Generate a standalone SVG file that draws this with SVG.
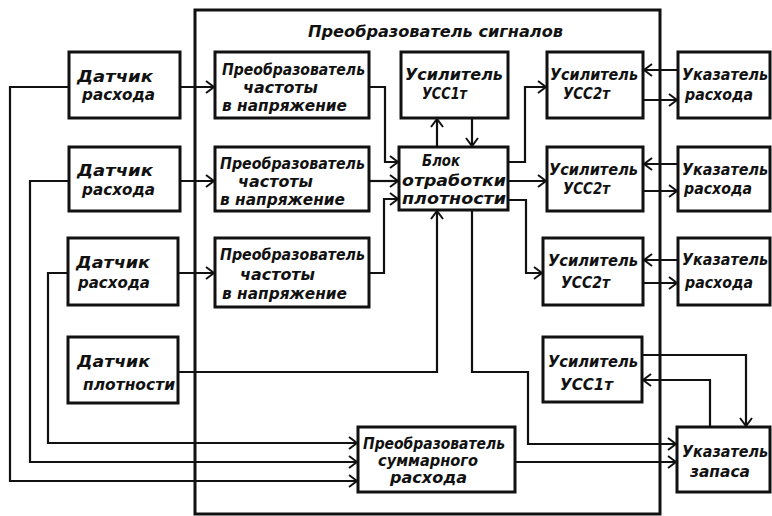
<svg xmlns="http://www.w3.org/2000/svg" width="772" height="516" viewBox="0 0 772 516">
<style>
.box{fill:#fff;stroke:#111;stroke-width:3}
.frame{fill:none;stroke:#111;stroke-width:3}
.ln{fill:none;stroke:#111;stroke-width:2.2}
.ar{marker-end:url(#arr)}
text{font-family:"DejaVu Sans","Liberation Sans",sans-serif;font-style:italic;font-weight:bold;font-size:15px;fill:#111}
</style>
<defs>
<marker id="arr" markerUnits="userSpaceOnUse" markerWidth="12" markerHeight="14" refX="9" refY="7" orient="auto">
<path d="M1,1 L9,7 L1,13" fill="none" stroke="#111" stroke-width="2"/>
</marker>
</defs>
<rect width="772" height="516" fill="#fff"/>
<g id="frame">
<rect class="frame" x="195" y="10" width="465" height="504"/>
<text x="308" y="37" textLength="255" lengthAdjust="spacingAndGlyphs">Преобразователь сигналов</text>
</g>
<g id="connectors">
<path class="ln ar" d="M180,87 H214"/>
<path class="ln ar" d="M180,181 H214"/>
<path class="ln ar" d="M177,273 H214"/>
<path class="ln ar" d="M69,87 H10 V481 H357"/>
<path class="ln ar" d="M69,181 H30 V462 H357"/>
<path class="ln ar" d="M68,273 H48 V443 H357"/>
<path class="ln ar" d="M178,372 H437 V211"/>
<path class="ln ar" d="M369,87 H385 V162 H398"/>
<path class="ln ar" d="M369,181 H398"/>
<path class="ln ar" d="M369,273 H384 V199 H398"/>
<path class="ln ar" d="M437,147 V119"/>
<path class="ln ar" d="M472,118 V146"/>
<path class="ln ar" d="M508,162 H525 V87 H546"/>
<path class="ln ar" d="M508,181 H546"/>
<path class="ln ar" d="M508,200 H526 V273 H542"/>
<path class="ln ar" d="M678,70 H644"/>
<path class="ln ar" d="M643,100 H677"/>
<path class="ln ar" d="M678,164 H644"/>
<path class="ln ar" d="M643,191 H677"/>
<path class="ln ar" d="M678,260 H644"/>
<path class="ln ar" d="M643,283 H677"/>
<path class="ln ar" d="M472,210 V372 H528 V444 H676"/>
<path class="ln ar" d="M515,462 H676"/>
<path class="ln ar" d="M642,355 H746 V426"/>
<path class="ln ar" d="M710,427 V380 H643"/>
</g>
<g id="d1">
<rect class="box" x="69" y="52" width="111" height="66"/>
<text x="77" y="82" textLength="76" lengthAdjust="spacingAndGlyphs">Датчик</text>
<text x="82" y="100" textLength="73" lengthAdjust="spacingAndGlyphs">расхода</text>
</g>
<g id="d2">
<rect class="box" x="69" y="147" width="111" height="64"/>
<text x="77" y="176" textLength="76" lengthAdjust="spacingAndGlyphs">Датчик</text>
<text x="82" y="195" textLength="73" lengthAdjust="spacingAndGlyphs">расхода</text>
</g>
<g id="d3">
<rect class="box" x="68" y="238" width="110" height="67"/>
<text x="76" y="268" textLength="74" lengthAdjust="spacingAndGlyphs">Датчик</text>
<text x="78" y="288" textLength="72" lengthAdjust="spacingAndGlyphs">расхода</text>
</g>
<g id="d4">
<rect class="box" x="68" y="337" width="110" height="66"/>
<text x="77" y="367" textLength="73" lengthAdjust="spacingAndGlyphs">Датчик</text>
<text x="83" y="390" textLength="92" lengthAdjust="spacingAndGlyphs">плотности</text>
</g>
<g id="c1">
<rect class="box" x="215" y="52" width="154" height="66"/>
<text x="222" y="75" textLength="143" lengthAdjust="spacingAndGlyphs">Преобразователь</text>
<text x="243" y="93" textLength="75" lengthAdjust="spacingAndGlyphs">частоты</text>
<text x="222" y="111" textLength="125" lengthAdjust="spacingAndGlyphs">в напряжение</text>
</g>
<g id="c2">
<rect class="box" x="215" y="147" width="154" height="64"/>
<text x="220" y="169" textLength="145" lengthAdjust="spacingAndGlyphs">Преобразователь</text>
<text x="238" y="187" textLength="75" lengthAdjust="spacingAndGlyphs">частоты</text>
<text x="220" y="205" textLength="125" lengthAdjust="spacingAndGlyphs">в напряжение</text>
</g>
<g id="c3">
<rect class="box" x="215" y="238" width="154" height="69"/>
<text x="220" y="260" textLength="145" lengthAdjust="spacingAndGlyphs">Преобразователь</text>
<text x="240" y="280" textLength="75" lengthAdjust="spacingAndGlyphs">частоты</text>
<text x="222" y="299" textLength="125" lengthAdjust="spacingAndGlyphs">в напряжение</text>
</g>
<g id="u1">
<rect class="box" x="401" y="52" width="107" height="66"/>
<text x="405" y="80" textLength="98" lengthAdjust="spacingAndGlyphs">Усилитель</text>
<text x="422" y="99" textLength="45" lengthAdjust="spacingAndGlyphs">УСС1т</text>
</g>
<g id="b">
<rect class="box" x="399" y="147" width="109" height="63"/>
<text x="422" y="166" textLength="38" lengthAdjust="spacingAndGlyphs">Блок</text>
<text x="402" y="186" textLength="104" lengthAdjust="spacingAndGlyphs">отработки</text>
<text x="402" y="204" textLength="104" lengthAdjust="spacingAndGlyphs">плотности</text>
</g>
<g id="a1">
<rect class="box" x="547" y="52" width="96" height="66"/>
<text x="550" y="80" textLength="88" lengthAdjust="spacingAndGlyphs">Усилитель</text>
<text x="563" y="99" textLength="47" lengthAdjust="spacingAndGlyphs">УСС2т</text>
</g>
<g id="a2">
<rect class="box" x="547" y="147" width="96" height="64"/>
<text x="549" y="175" textLength="89" lengthAdjust="spacingAndGlyphs">Усилитель</text>
<text x="563" y="194" textLength="47" lengthAdjust="spacingAndGlyphs">УСС2т</text>
</g>
<g id="a3">
<rect class="box" x="543" y="238" width="100" height="67"/>
<text x="548" y="266" textLength="90" lengthAdjust="spacingAndGlyphs">Усилитель</text>
<text x="561" y="288" textLength="49" lengthAdjust="spacingAndGlyphs">УСС2т</text>
</g>
<g id="i1">
<rect class="box" x="678" y="52" width="92" height="66"/>
<text x="682" y="80" textLength="86" lengthAdjust="spacingAndGlyphs">Указатель</text>
<text x="685" y="100" textLength="68" lengthAdjust="spacingAndGlyphs">расхода</text>
</g>
<g id="i2">
<rect class="box" x="678" y="147" width="92" height="64"/>
<text x="682" y="175" textLength="86" lengthAdjust="spacingAndGlyphs">Указатель</text>
<text x="684" y="194" textLength="68" lengthAdjust="spacingAndGlyphs">расхода</text>
</g>
<g id="i3">
<rect class="box" x="678" y="238" width="92" height="67"/>
<text x="682" y="265" textLength="86" lengthAdjust="spacingAndGlyphs">Указатель</text>
<text x="685" y="288" textLength="68" lengthAdjust="spacingAndGlyphs">расхода</text>
</g>
<g id="u2">
<rect class="box" x="543" y="337" width="99" height="65"/>
<text x="548" y="367" textLength="90" lengthAdjust="spacingAndGlyphs">Усилитель</text>
<text x="560" y="390" textLength="53" lengthAdjust="spacingAndGlyphs">УСС1т</text>
</g>
<g id="z">
<rect class="box" x="677" y="427" width="93" height="65"/>
<text x="682" y="457" textLength="86" lengthAdjust="spacingAndGlyphs">Указатель</text>
<text x="690" y="477" textLength="60" lengthAdjust="spacingAndGlyphs">запаса</text>
</g>
<g id="s">
<rect class="box" x="358" y="427" width="157" height="65"/>
<text x="363" y="449" textLength="142" lengthAdjust="spacingAndGlyphs">Преобразователь</text>
<text x="378" y="466" textLength="100" lengthAdjust="spacingAndGlyphs">суммарного</text>
<text x="390" y="483" textLength="77" lengthAdjust="spacingAndGlyphs">расхода</text>
</g>
</svg>
